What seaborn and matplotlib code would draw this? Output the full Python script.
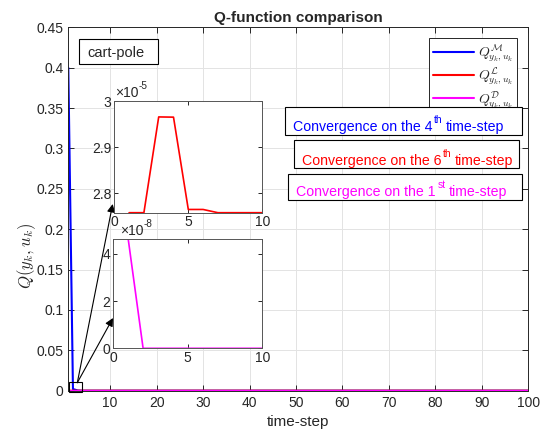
import numpy as np
import pandas as pd
import matplotlib
matplotlib.use("Agg")
import matplotlib.pyplot as plt
import seaborn as sns
from matplotlib.patches import Rectangle
from matplotlib.ticker import FuncFormatter, MultipleLocator

# values
steps = list(range(1, 101))
q_model = [0.4, 0.0021, 0.0003] + [2.758e-5] * 97
q_learn = [2.758e-5, 2.758e-5, 2.9655e-5, 2.965e-5, 2.765e-5, 2.765e-5] + [2.758e-5] * 94
q_data = [4.63e-8] + [0.0] * 99

series_names = ["M", "L", "D"]
series_labels = [r"$Q^{\mathcal{M}}_{y_k,u_k}$", r"$Q^{\mathcal{L}}_{y_k,u_k}$", r"$Q^{\mathcal{D}}_{y_k,u_k}$"]
colors = {"M": "#0000ff", "L": "#ff0000", "D": "#ff00ff"}
conv_notes = [("4", "th", "M"), ("6", "th", "L"), ("1", "st", "D")]

df = pd.concat([
    pd.DataFrame({"step": steps, "Q": q_model, "series": "M"}),
    pd.DataFrame({"step": steps, "Q": q_learn, "series": "L"}),
    pd.DataFrame({"step": steps, "Q": q_data, "series": "D"}),
])

sns.set_style("ticks")
plt.rcParams["font.family"] = ["Liberation Sans", "DejaVu Sans"]
plt.rcParams["mathtext.fontset"] = "cm"
plt.rcParams["axes.edgecolor"] = "#262626"
plt.rcParams["axes.linewidth"] = 0.7

W, H = 550, 436
fig = plt.figure(figsize=(5.5, 4.36), dpi=100)
fx = lambda px: px / W
fy = lambda py: 1 - py / H

ax = fig.add_axes([fx(68.3), fy(390.7), fx(528.3) - fx(68.3), (390.7 - 27.3) / H])
sns.lineplot(data=df, x="step", y="Q", hue="series", palette=colors, lw=1.5, ax=ax, legend=False)
ax.set_xlim(1, 100)
ax.set_ylim(0, 0.45)
ax.xaxis.set_major_locator(MultipleLocator(10))
ax.yaxis.set_major_locator(MultipleLocator(0.05))
ax.yaxis.set_major_formatter(FuncFormatter(lambda v, p: f"{v:g}"))
ax.tick_params(direction="in", top=True, right=True, labelsize=10, length=4, width=0.7)
ax.grid(True, color="#e3e3e3", lw=0.7)
ax.set_axisbelow(True)
ax.set_xlabel("time-step", fontsize=11)
ax.set_ylabel(r"$Q(y_k,u_k)$", fontsize=12)
ax.yaxis.set_label_coords(-0.066, 0.37)
ax.set_title("Q-function comparison", fontsize=11, fontweight="bold", pad=4)

handles = [plt.Line2D([], [], color=colors[s], lw=1.5) for s in series_names]
leg = ax.legend(handles, series_labels, loc="upper right", bbox_to_anchor=(fx(517.3), fy(38.3)),
                bbox_transform=fig.transFigure, fontsize=10, fancybox=False, framealpha=1,
                edgecolor="#262626", handlelength=2.9, labelspacing=0.1, borderpad=0.3,
                handletextpad=0.3, borderaxespad=0)
leg.get_frame().set_linewidth(0.7)

# zoom box and arrows
ax.add_patch(Rectangle((1.15, -0.0012), 2.85, 0.0117, fill=False, ec="k", lw=0.8, clip_on=False, zorder=5))
for tip in [(112.7, 204), (113, 318)]:
    ax.annotate("", xy=(fx(tip[0]), fy(tip[1])), xycoords="figure fraction", xytext=(2.94, 0.0099),
                textcoords="data", arrowprops=dict(arrowstyle="-|>", color="k", lw=0.8,
                                                   shrinkA=0, shrinkB=0, mutation_scale=12))

# insets
ins1 = fig.add_axes([fx(114.3), fy(212.7), (262.3 - 114.3) / W, (212.7 - 101) / H])
sns.lineplot(data=df[(df.series == "L") & (df.step <= 10)], x="step", y="Q", color=colors["L"],
             lw=1.2, ax=ins1)
ins1.set_xlim(0, 10)
ins1.set_ylim(2.758e-5, 3.0e-5)
ins1.yaxis.set_major_formatter(FuncFormatter(lambda v, p: f"{v / 1e-5:g}"))
ins1.set_yticks([2.8e-5, 2.9e-5, 3.0e-5])

ins2 = fig.add_axes([fx(113.3), fy(348.3), (262.3 - 113.3) / W, (348.3 - 239) / H])
sns.lineplot(data=df[(df.series == "D") & (df.step <= 10)], x="step", y="Q", color=colors["D"],
             lw=1.2, ax=ins2)
ins2.set_xlim(0, 10)
ins2.set_ylim(0, 4.63e-8)
ins2.yaxis.set_major_formatter(FuncFormatter(lambda v, p: f"{v / 1e-8:g}"))
ins2.set_yticks([0, 2e-8, 4e-8])

for a in (ins1, ins2):
    a.set_xticks([0, 5, 10])
    a.set_xlabel("")
    a.set_ylabel("")
    a.tick_params(direction="in", top=True, right=True, labelsize=10, length=3, width=0.7, pad=2)
    for sp in a.spines.values():
        sp.set_color("#555555")

renderer = fig.canvas.get_renderer()


def place_parts(x_px, base_px, parts, color, size, gaps=(2, 3)):
    # parts: (text, is_superscript); gaps before / after a superscript added by hand
    x = x_px
    for txt, sup in parts:
        if sup:
            x += gaps[0]
        t = fig.text(fx(x), fy(base_px - (8 if sup else 0)), txt, fontsize=size * 0.72 if sup else size,
                     color=color, va="baseline", ha="left")
        x += t.get_window_extent(renderer).width + (gaps[1] if sup else 0)


place_parts(115, 97, [("×10", False), ("-5", True)], "#262626", 10, gaps=(0, 0))
place_parts(120, 235, [("×10", False), ("-8", True)], "#262626", 10, gaps=(0, 0))

# cart-pole box
fig.add_artist(Rectangle((fx(79.3), fy(64)), (157.7 - 79.3) / W, (64 - 39.3) / H, fill=True, fc="white",
                         ec="k", lw=0.8, transform=fig.transFigure))
fig.text(fx(87), fy(56.5), "cart-pole", fontsize=10.5, va="baseline")

# convergence boxes
boxes = [(285, 107.3, 521.7, 135, 292.7, 131), (294, 140, 519.3, 168.3, 301.7, 164.5),
         (288.3, 174, 521.7, 200, 296, 196)]
for (x0, y0, x1, y1, tx, ty), (num, suf, s) in zip(boxes, conv_notes):
    fig.add_artist(Rectangle((fx(x0), fy(y1)), (x1 - x0) / W, (y1 - y0) / H, fill=True, fc="white",
                             ec="k", lw=0.8, transform=fig.transFigure))
    place_parts(tx, ty, [(f"Convergence on the {num}", False), (suf, True), ("time-step", False)],
                colors[s], 10.2)

fig.savefig("out.png", dpi=100)
